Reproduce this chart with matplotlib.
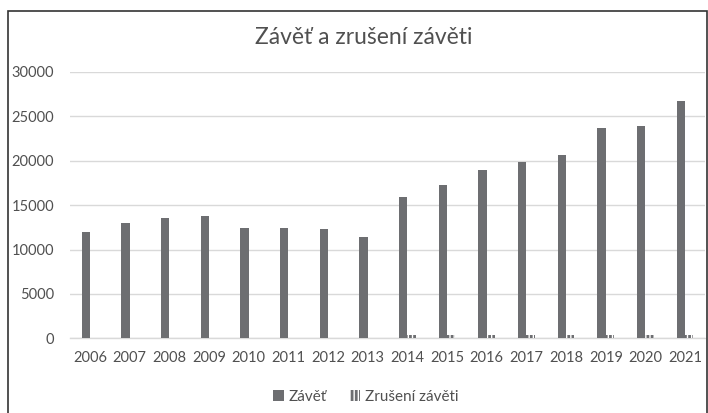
import matplotlib
matplotlib.use("Agg")
import matplotlib.pyplot as plt
import numpy as np
from matplotlib.patches import Patch, Rectangle

years = ["2006", "2007", "2008", "2009", "2010", "2011", "2012", "2013",
         "2014", "2015", "2016", "2017", "2018", "2019", "2020", "2021"]
zavet = [12000, 13000, 13600, 13830, 12440, 12400, 12330, 11430,
         15900, 17250, 19000, 19900, 20640, 23650, 23870, 26730]
zruseni = [0, 0, 0, 0, 0, 0, 0, 0,
           420, 380, 400, 350, 410, 390, 360, 420]
yticks = [0, 5000, 10000, 15000, 20000, 25000, 30000]

plt.rcParams['font.family'] = ['Lato', 'DejaVu Sans']
plt.rcParams['hatch.linewidth'] = 2.0

bar_color = '#6d6e71'
text_color = '#505050'
grid_color = '#d9d9d9'

fig = plt.figure(figsize=(7.08, 4.13), dpi=100)
ax = fig.add_axes([70/708, 1-338.3/413, 635/708, (338.3-72)/413])

x = np.arange(len(years))
w = 0.21
ax.bar(x - w/2, zavet, width=w, color=bar_color, linewidth=0, zorder=3)
ax.bar(x + w/2, zruseni, width=w, facecolor='white', edgecolor=bar_color,
       hatch='||||', linewidth=0, zorder=3)

ax.set_xlim(-0.5, len(years) - 0.5)
ax.set_ylim(0, 30000)
ax.set_yticks(yticks)
ax.set_yticklabels([str(v) for v in yticks])
ax.set_xticks(x)
ax.set_xticklabels(years)
ax.grid(axis='y', color=grid_color, linewidth=1, zorder=0)
for s in ['top', 'right', 'left']:
    ax.spines[s].set_visible(False)
ax.spines['bottom'].set_color(grid_color)
ax.spines['bottom'].set_linewidth(1)
ax.tick_params(axis='both', length=0, labelsize=10.5, labelcolor=text_color)
ax.tick_params(axis='y', pad=11.5)
ax.tick_params(axis='x', pad=9)

fig.text(364/708, 1-38/413, "Závěť a zrušení závěti", ha='center', va='center',
         fontsize=16.5, color=text_color)

handles = [Patch(facecolor=bar_color, linewidth=0),
           Patch(facecolor='white', edgecolor=bar_color, hatch='||||', linewidth=0)]
fig.legend(handles, ["Závěť", "Zrušení závěti"], loc='center',
           bbox_to_anchor=(366/708, 1-397/413), ncol=2, frameon=False,
           fontsize=11, labelcolor=text_color, handlelength=0.7, handleheight=0.7,
           handletextpad=0.3, columnspacing=1.5)

fig.patches.append(Rectangle((7.5/708, -0.02), 699.5/708, 1-10.5/413+0.02,
                             transform=fig.transFigure, fill=False,
                             edgecolor='#333333', linewidth=1.2))

fig.savefig("out.png", dpi=100)
